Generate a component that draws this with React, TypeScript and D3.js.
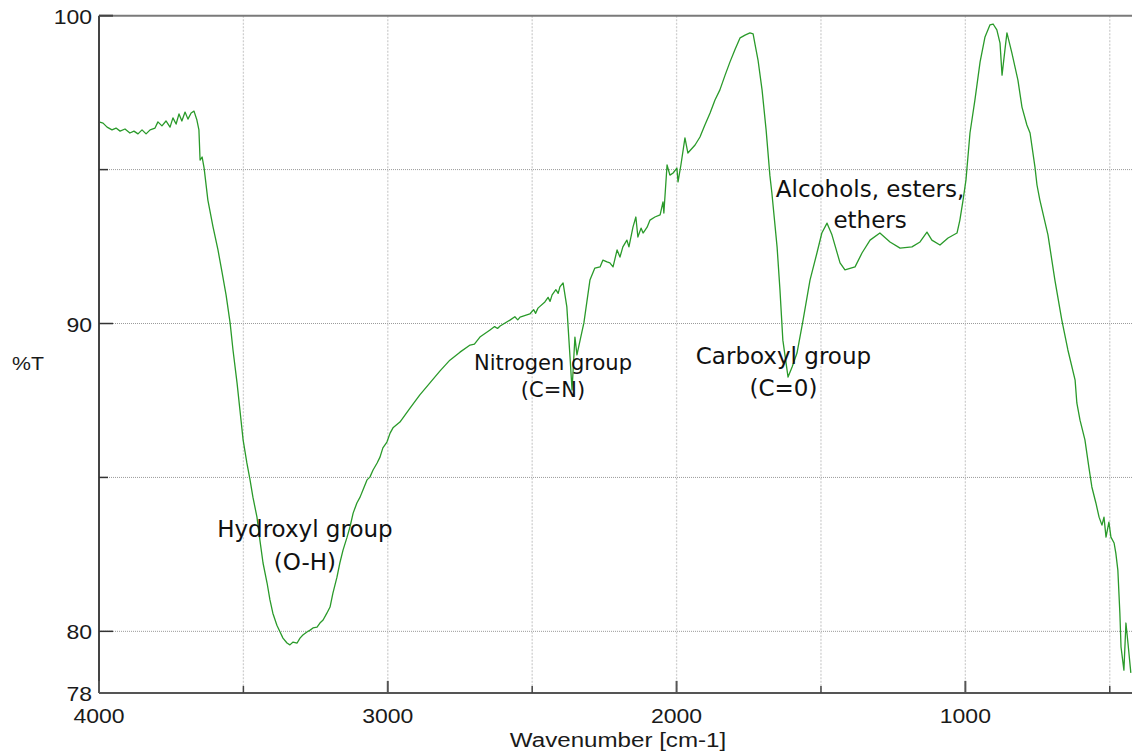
import React from 'react';
import * as d3 from 'd3';

// Wavenumber (cm-1) and %T readings of the spectrum
const wavenumbers = [
  4000, 3986, 3972, 3955, 3941, 3927, 3910, 3893, 3879, 3865, 3851, 3837, 3823, 3806, 3796, 3782, 3768, 3754, 3744, 3733,
  3723, 3713, 3702, 3692, 3681, 3671, 3661, 3654, 3650, 3643, 3636, 3623, 3605, 3588, 3574, 3560, 3546, 3536, 3522, 3512,
  3501, 3488, 3477, 3467, 3453, 3443, 3432, 3418, 3408, 3398, 3384, 3373, 3363, 3349, 3339, 3328, 3314, 3304, 3294, 3280,
  3269, 3259, 3245, 3235, 3224, 3211, 3200, 3190, 3176, 3166, 3155, 3141, 3131, 3120, 3107, 3096, 3086, 3072, 3062, 3051,
  3037, 3027, 3017, 3003, 2992, 2982, 2958, 2923, 2889, 2854, 2819, 2785, 2750, 2715, 2700, 2681, 2646, 2630, 2620, 2611,
  2577, 2560, 2550, 2542, 2508, 2495, 2488, 2480, 2456, 2445, 2438, 2431, 2418, 2410, 2404, 2393, 2380, 2369, 2362, 2352,
  2345, 2334, 2321, 2300, 2283, 2265, 2255, 2241, 2231, 2220, 2206, 2196, 2186, 2172, 2165, 2151, 2141, 2134, 2123, 2116,
  2102, 2092, 2075, 2057, 2047, 2044, 2033, 2023, 2012, 1999, 1995, 1985, 1971, 1961, 1936, 1919, 1902, 1884, 1867, 1850,
  1832, 1815, 1798, 1780, 1763, 1746, 1735, 1728, 1718, 1704, 1690, 1677, 1670, 1652, 1642, 1632, 1614, 1600, 1583, 1562,
  1538, 1514, 1497, 1479, 1462, 1434, 1417, 1382, 1358, 1330, 1296, 1261, 1226, 1185, 1157, 1133, 1116, 1088, 1060, 1029,
  1019, 1008, 998, 984, 967, 949, 932, 915, 904, 891, 880, 873, 863, 856, 839, 818, 804, 787, 776, 759,
  752, 742, 714, 690, 666, 645, 620, 614, 603, 586, 572, 562, 548, 537, 527, 520, 513, 503, 496, 485,
  479, 472, 465, 461, 451, 444, 437, 427,
];

const transmittance = [
  96.55, 96.51, 96.38, 96.29, 96.35, 96.25, 96.32, 96.19, 96.25, 96.16, 96.29, 96.16, 96.29, 96.35, 96.55, 96.42, 96.58, 96.38, 96.68, 96.48,
  96.81, 96.58, 96.87, 96.64, 96.84, 96.90, 96.61, 96.29, 95.31, 95.41, 95.05, 94.01, 93.13, 92.39, 91.67, 90.93, 90.02, 89.14, 88.07, 87.19,
  86.22, 85.47, 84.92, 84.36, 83.71, 82.97, 82.22, 81.57, 81.02, 80.59, 80.20, 79.98, 79.78, 79.62, 79.56, 79.65, 79.62, 79.78, 79.88, 79.98,
  80.04, 80.11, 80.14, 80.27, 80.37, 80.59, 80.79, 81.24, 81.76, 82.22, 82.64, 83.06, 83.39, 83.84, 84.17, 84.36, 84.59, 84.92, 85.01, 85.24,
  85.47, 85.66, 85.96, 86.15, 86.44, 86.61, 86.80, 87.25, 87.68, 88.07, 88.46, 88.81, 89.07, 89.30, 89.33, 89.56, 89.79, 89.90, 89.84, 89.92,
  90.11, 90.22, 90.12, 90.21, 90.31, 90.45, 90.33, 90.50, 90.70, 90.85, 90.72, 90.93, 91.10, 90.98, 91.19, 91.32, 90.54, 88.91, 87.84, 89.56,
  88.98, 89.46, 90.02, 91.41, 91.80, 91.84, 92.06, 92.00, 91.97, 91.84, 92.39, 92.16, 92.49, 92.71, 92.49, 93.13, 93.46, 92.81, 93.10, 92.94,
  93.13, 93.36, 93.46, 93.53, 93.95, 93.59, 95.15, 94.82, 94.89, 95.05, 94.60, 95.15, 96.03, 95.54, 95.80, 96.06, 96.45, 96.84, 97.26, 97.59,
  98.07, 98.50, 98.89, 99.28, 99.37, 99.44, 99.41, 99.05, 98.56, 97.59, 96.29, 94.82, 94.24, 92.49, 91.09, 89.46, 88.26, 88.59, 89.04, 90.11,
  91.41, 92.29, 92.94, 93.26, 92.88, 91.97, 91.74, 91.84, 92.29, 92.71, 92.94, 92.65, 92.45, 92.49, 92.65, 92.97, 92.71, 92.55, 92.78, 92.94,
  93.36, 94.01, 94.66, 96.19, 97.26, 98.50, 99.31, 99.70, 99.73, 99.54, 99.11, 98.07, 98.89, 99.44, 98.79, 97.91, 97.03, 96.45, 96.19, 95.08,
  94.50, 94.01, 92.88, 91.41, 90.11, 89.14, 88.16, 87.42, 86.86, 86.22, 85.31, 84.69, 84.17, 83.71, 83.45, 83.71, 83.06, 83.55, 83.06, 82.87,
  82.54, 81.99, 80.59, 79.49, 78.74, 80.27, 79.62, 78.65,
];

const yLabelValues = [100, 90, 80, 78];
const yGridValues = [95, 90, 85, 80];
const yMajorTickValues = [90, 80];
const yMinorTickValues = [95, 85];
const xMajorTicks = [4000, 3000, 2000, 1000];
const xMinorTicks = [3500, 2500, 1500, 500];
const xGridValues = [3500, 3000, 2500, 2000, 1500, 1000, 500];

const annotationTexts = [
  ['Hydroxyl group', '(O-H)'],
  ['Nitrogen group', '(C=N)'],
  ['Carboxyl group', '(C=0)'],
  ['Alcohols, esters,', 'ethers'],
];
const annotationWavenumbers = [3287, 2428, 1630, 1330];
const annotationT = [83.06, 88.49, 88.68, 94.11];

const W = 1132;
const H = 755;
const left = 99;
const right = 1132;
const top = 15.7;
const bottom = 692.9;

export default function App() {
  const x = d3.scaleLinear().domain([4000, 423]).range([left, right]);
  const y = d3.scaleLinear().domain([78, 100]).range([bottom, top]);

  const pts: [number, number][] = wavenumbers.map((w, i) => [w, transmittance[i]]);
  const line = d3
    .line<[number, number]>()
    .x((d) => x(d[0]))
    .y((d) => y(d[1]))
    .curve(d3.curveLinear);

  const axisFont = '"Liberation Sans", Arial, sans-serif';
  const annFont = '"DejaVu Sans", Verdana, sans-serif';
  const annSizes = [23, 21, 23, 23];
  const annGaps = [33, 27, 32, 31];

  return (
    <svg
      width={W}
      height={H}
      style={{ position: 'absolute', left: 0, top: 0, background: '#fff' }}
    >
      <rect x={0} y={0} width={W} height={H} fill="#fff" />
      {/* horizontal grid */}
      {yGridValues.map((v) => (
        <line
          key={'hg' + v}
          x1={left}
          x2={right}
          y1={y(v)}
          y2={y(v)}
          stroke="#9a9a9a"
          strokeWidth={1}
          strokeDasharray="1,1"
        />
      ))}
      {/* vertical grid */}
      {xGridValues.map((v) => (
        <line
          key={'vg' + v}
          x1={x(v)}
          x2={x(v)}
          y1={top}
          y2={bottom}
          stroke="#cfcfcf"
          strokeWidth={1.3}
          strokeDasharray="2,1.5"
        />
      ))}

      {/* spectrum */}
      <path d={line(pts) || ''} fill="none" stroke="#2a9a2a" strokeWidth={1.3} strokeLinejoin="round" />

      {/* frame */}
      <line x1={left} x2={right} y1={top} y2={top} stroke="#7a7a7a" strokeWidth={2} />
      <line x1={left} x2={left} y1={top} y2={bottom} stroke="#444" strokeWidth={2} />
      <line x1={left} x2={right} y1={bottom} y2={bottom} stroke="#555" strokeWidth={2} />

      {/* y ticks */}
      {yMajorTickValues.map((v) => (
        <line key={'yt' + v} x1={left} x2={left + 14} y1={y(v)} y2={y(v)} stroke="#333" strokeWidth={1.5} />
      ))}
      {yMinorTickValues.map((v) => (
        <line key={'ytm' + v} x1={left} x2={left + 9} y1={y(v)} y2={y(v)} stroke="#333" strokeWidth={1.5} />
      ))}
      <line x1={left} x2={left + 14} y1={top} y2={top} stroke="#444" strokeWidth={2} />

      {/* x ticks */}
      {xMajorTicks.map((v) => (
        <line key={'xt' + v} x1={x(v)} x2={x(v)} y1={bottom} y2={bottom - 12} stroke="#555" strokeWidth={2} />
      ))}
      {xMinorTicks.map((v) => (
        <line key={'xtm' + v} x1={x(v)} x2={x(v)} y1={bottom} y2={bottom - 7} stroke="#444" strokeWidth={1.5} />
      ))}

      {/* y tick labels */}
      {yLabelValues.map((v) => (
        <g key={'yl' + v} transform={`translate(92,${y(v) + 8}) scale(1.15,1)`}>
          <text textAnchor="end" fontFamily={axisFont} fontSize={20} fill="#1a1a1a">
            {v}
          </text>
        </g>
      ))}

      {/* x tick labels */}
      {xMajorTicks.map((v) => (
        <g key={'xl' + v} transform={`translate(${x(v)},723) scale(1.15,1)`}>
          <text textAnchor="middle" fontFamily={axisFont} fontSize={20} fill="#1a1a1a">
            {v}
          </text>
        </g>
      ))}

      {/* axis titles */}
      <g transform={`translate(618,747) scale(1.15,1)`}>
        <text textAnchor="middle" fontFamily={axisFont} fontSize={21} fill="#1a1a1a">
          Wavenumber [cm-1]
        </text>
      </g>
      <g transform={`translate(12,370) scale(1.12,1)`}>
        <text textAnchor="start" fontFamily={axisFont} fontSize={19} fill="#1a1a1a">
          %T
        </text>
      </g>

      {/* annotations */}
      {annotationTexts.map((lines, i) => (
        <text
          key={'an' + i}
          x={x(annotationWavenumbers[i])}
          y={y(annotationT[i])}
          textAnchor="middle"
          fontFamily={annFont}
          fontSize={annSizes[i]}
          fill="#111"
        >
          {lines.map((l, j) => (
            <tspan key={j} x={x(annotationWavenumbers[i])} dy={j === 0 ? 0 : annGaps[i]}>
              {l}
            </tspan>
          ))}
        </text>
      ))}
    </svg>
  );
}
